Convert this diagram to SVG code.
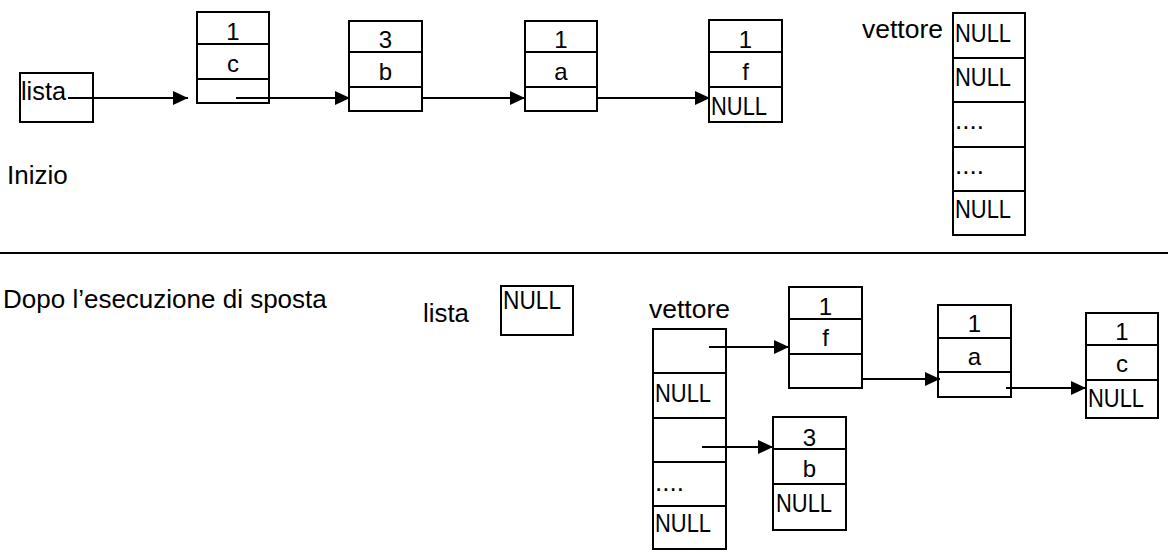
<svg xmlns="http://www.w3.org/2000/svg" width="1168" height="555" viewBox="0 0 1168 555">
<style>
text{font-family:"Liberation Sans",Arial,sans-serif;font-size:26px;fill:#000}
.c{text-anchor:middle;font-size:24px}
.box{fill:none;stroke:#000;stroke-width:2}
.conn{stroke:#000;stroke-width:2;fill:none}
</style>
<defs>
<marker id="ah" viewBox="0 0 15 14" refX="15" refY="7" markerWidth="15" markerHeight="14" markerUnits="userSpaceOnUse" orient="auto">
<path d="M0,0 L15,7 L0,14 Z" fill="#000"/>
</marker>
</defs>
<rect width="1168" height="555" fill="#fff"/>

<g id="top-lista">
<rect class="box" x="20" y="73" width="73" height="49"/>
<text x="21" y="100" textLength="45" lengthAdjust="spacingAndGlyphs">lista</text>
</g>
<text id="label-inizio" x="7" y="184">Inizio</text>

<g id="top-node-c">
<rect class="box" x="197" y="12" width="72" height="91"/>
<line class="box" x1="197" y1="44" x2="269" y2="44"/>
<line class="box" x1="197" y1="79" x2="269" y2="79"/>
<text class="c" x="233" y="40">1</text>
<text class="c" x="233" y="72">c</text>
</g>
<g id="top-node-b">
<rect class="box" x="349" y="21" width="73" height="90"/>
<line class="box" x1="349" y1="52" x2="422" y2="52"/>
<line class="box" x1="349" y1="87" x2="422" y2="87"/>
<text class="c" x="385.5" y="48">3</text>
<text class="c" x="385.5" y="80">b</text>
</g>
<g id="top-node-a">
<rect class="box" x="525" y="21" width="72" height="90"/>
<line class="box" x1="525" y1="52" x2="597" y2="52"/>
<line class="box" x1="525" y1="87" x2="597" y2="87"/>
<text class="c" x="561" y="48">1</text>
<text class="c" x="561" y="80">a</text>
</g>
<g id="top-node-f">
<rect class="box" x="709" y="20" width="73" height="102"/>
<line class="box" x1="709" y1="52" x2="782" y2="52"/>
<line class="box" x1="709" y1="87" x2="782" y2="87"/>
<text class="c" x="745.5" y="48">1</text>
<text class="c" x="745.5" y="80">f</text>
<text x="711" y="115" textLength="56" lengthAdjust="spacingAndGlyphs">NULL</text>
</g>
<g id="top-vettore">
<text x="862" y="38" textLength="81" lengthAdjust="spacingAndGlyphs">vettore</text>
<rect class="box" x="953" y="13" width="72" height="222"/>
<line class="box" x1="953" y1="58" x2="1025" y2="58"/>
<line class="box" x1="953" y1="102" x2="1025" y2="102"/>
<line class="box" x1="953" y1="147" x2="1025" y2="147"/>
<line class="box" x1="953" y1="191" x2="1025" y2="191"/>
<text x="955" y="42" textLength="56" lengthAdjust="spacingAndGlyphs">NULL</text>
<text x="955" y="86" textLength="56" lengthAdjust="spacingAndGlyphs">NULL</text>
<text x="955" y="129" font-size="24">....</text>
<text x="955" y="174" font-size="24">....</text>
<text x="955" y="218" textLength="56" lengthAdjust="spacingAndGlyphs">NULL</text>
</g>

<line id="separator" x1="0" y1="253" x2="1168" y2="253" stroke="#000" stroke-width="2"/>

<text id="label-dopo" x="3" y="308">Dopo l’esecuzione di sposta</text>
<g id="bottom-lista">
<text x="423" y="322" textLength="46" lengthAdjust="spacingAndGlyphs">lista</text>
<rect class="box" x="501" y="286" width="72" height="49"/>
<text x="503" y="309" textLength="58" lengthAdjust="spacingAndGlyphs">NULL</text>
</g>
<g id="bottom-vettore">
<text x="649" y="318" textLength="81" lengthAdjust="spacingAndGlyphs">vettore</text>
<rect class="box" x="653" y="329" width="73" height="220"/>
<line class="box" x1="653" y1="373" x2="726" y2="373"/>
<line class="box" x1="653" y1="418" x2="726" y2="418"/>
<line class="box" x1="653" y1="462" x2="726" y2="462"/>
<line class="box" x1="653" y1="506" x2="726" y2="506"/>
<text x="655" y="402" textLength="56" lengthAdjust="spacingAndGlyphs">NULL</text>
<text x="655" y="491" font-size="24">....</text>
<text x="655" y="532" textLength="56" lengthAdjust="spacingAndGlyphs">NULL</text>
</g>
<g id="bottom-node-f">
<rect class="box" x="789" y="287" width="73" height="101"/>
<line class="box" x1="789" y1="319" x2="862" y2="319"/>
<line class="box" x1="789" y1="354" x2="862" y2="354"/>
<text class="c" x="825.5" y="315">1</text>
<text class="c" x="825.5" y="346">f</text>
</g>
<g id="bottom-node-a">
<rect class="box" x="938" y="305" width="73" height="92"/>
<line class="box" x1="938" y1="338" x2="1011" y2="338"/>
<line class="box" x1="938" y1="372" x2="1011" y2="372"/>
<text class="c" x="974.5" y="332">1</text>
<text class="c" x="974.5" y="365">a</text>
</g>
<g id="bottom-node-c">
<rect class="box" x="1086" y="313" width="72" height="105"/>
<line class="box" x1="1086" y1="345" x2="1158" y2="345"/>
<line class="box" x1="1086" y1="380" x2="1158" y2="380"/>
<text class="c" x="1122" y="340">1</text>
<text class="c" x="1122" y="372">c</text>
<text x="1088" y="407" textLength="56" lengthAdjust="spacingAndGlyphs">NULL</text>
</g>
<g id="bottom-node-b">
<rect class="box" x="773" y="417" width="73" height="113"/>
<line class="box" x1="773" y1="449" x2="846" y2="449"/>
<line class="box" x1="773" y1="484" x2="846" y2="484"/>
<text class="c" x="809.5" y="446">3</text>
<text class="c" x="809.5" y="477">b</text>
<text x="776" y="512" textLength="56" lengthAdjust="spacingAndGlyphs">NULL</text>
</g>

<g id="connectors">
<line class="conn" x1="68" y1="98" x2="188" y2="98" marker-end="url(#ah)"/>
<line class="conn" x1="236" y1="98" x2="350" y2="98" marker-end="url(#ah)"/>
<line class="conn" x1="422" y1="98" x2="525" y2="98" marker-end="url(#ah)"/>
<line class="conn" x1="597" y1="98" x2="710" y2="98" marker-end="url(#ah)"/>
<line class="conn" x1="709" y1="347" x2="789" y2="347" marker-end="url(#ah)"/>
<line class="conn" x1="862" y1="379" x2="940" y2="379" marker-end="url(#ah)"/>
<line class="conn" x1="1006" y1="388" x2="1086" y2="388" marker-end="url(#ah)"/>
<line class="conn" x1="702" y1="447" x2="773" y2="447" marker-end="url(#ah)"/>
</g>
</svg>
